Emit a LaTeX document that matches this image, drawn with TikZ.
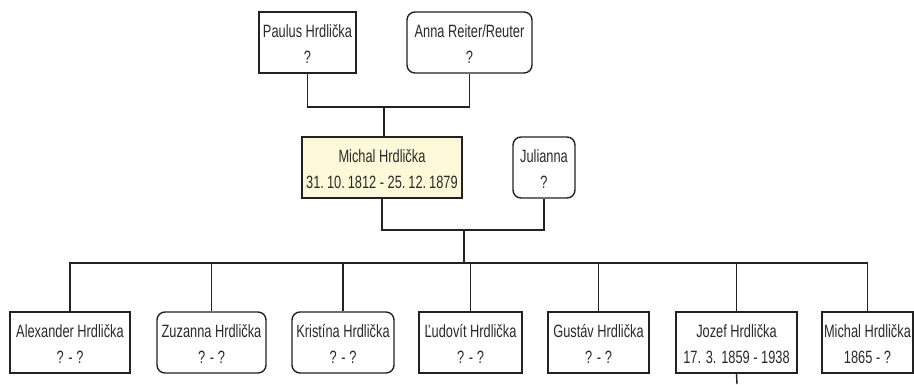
\documentclass[tikz,border=0pt]{standalone}
\usepackage{fontspec}
\setmainfont{Liberation Sans}[FakeStretch=0.72]
\definecolor{boxfill}{HTML}{FDF8D8}
\definecolor{ink}{HTML}{222222}
\definecolor{txtc}{HTML}{2A2A2A}
\tikzset{
  sq/.style={draw=ink, line width=1.4pt, fill=white, inner sep=0pt},
  rnd/.style={sq, rounded corners=8pt},
  focus/.style={sq, fill=boxfill},
  txt/.style={anchor=base, inner sep=0pt, text=txtc, font=\fontsize{17.8}{20}\selectfont},
  conn/.style={draw=ink, line width=1.4pt},
}
\newcommand\pbox[7]{%
  \pgfmathsetmacro\bw{#3-#2}%
  \pgfmathsetmacro\bx{(#2+#3)/2}%
  \node[#5, minimum width=\bw pt, minimum height=61pt] (#1) at (\bx,#4+30.5) {};
  \node[txt] (#1a) at (\bx,#4+25.5) {#6};
  \node[txt] (#1b) at (\bx,#4+51.5) {#7};
}
\begin{document}
\begin{tikzpicture}[x=1pt,y=-1pt]
\useasboundingbox (0,0) rectangle (914,384);
\clip (0,0) rectangle (914,384);
\coordinate (pbar) at (384,107);
\coordinate (mbar) at (464,230);
\coordinate (cbar) at (464,263);
\coordinate (jend) at (737,384);

\pbox{paulus}{259}{356}{12}{sq}{Paulus Hrdlička}{?}
\pbox{anna}{407}{532}{12}{rnd}{Anna Reiter/Reuter}{?}
\pbox{michal}{302}{462}{137}{focus}{Michal Hrdlička}{31.\,10.\,1812 - 25.\,12.\,1879}
\pbox{julianna}{513}{575}{137}{rnd}{Julianna}{?}
\pbox{alexander}{10}{130}{312}{sq}{Alexander Hrdlička}{? - ?}
\pbox{zuzanna}{157}{266}{312}{rnd}{Zuzanna Hrdlička}{? - ?}
\pbox{kristina}{292}{394}{312}{rnd}{Kristína Hrdlička}{? - ?}
\pbox{ludovit}{419}{522}{312}{sq}{Ľudovít Hrdlička}{? - ?}
\pbox{gustav}{548}{649}{312}{sq}{Gustáv Hrdlička}{? - ?}
\pbox{jozef}{676}{797}{312}{sq}{Jozef Hrdlička}{17. 3. 1859 - 1938}
\pbox{michaljr}{822}{913}{312}{sq}{Michal Hrdlička}{1865 - ?}

\draw[conn] (paulus.south) |- (pbar) -| (anna.south);
\draw[conn] (pbar) -- (pbar |- michal.north);
\draw[conn] (michal.south) |- (mbar) -| (julianna.south);
\draw[conn] (mbar) -- (cbar);
\draw[conn] (alexander.north) |- (cbar) -| (michaljr.north);
\foreach \c in {zuzanna,kristina,ludovit,gustav,jozef}
  \draw[conn] (\c.north) -- (\c.north |- cbar);
\draw[conn] (jozef.south) -- (jend);
\end{tikzpicture}
\end{document}
